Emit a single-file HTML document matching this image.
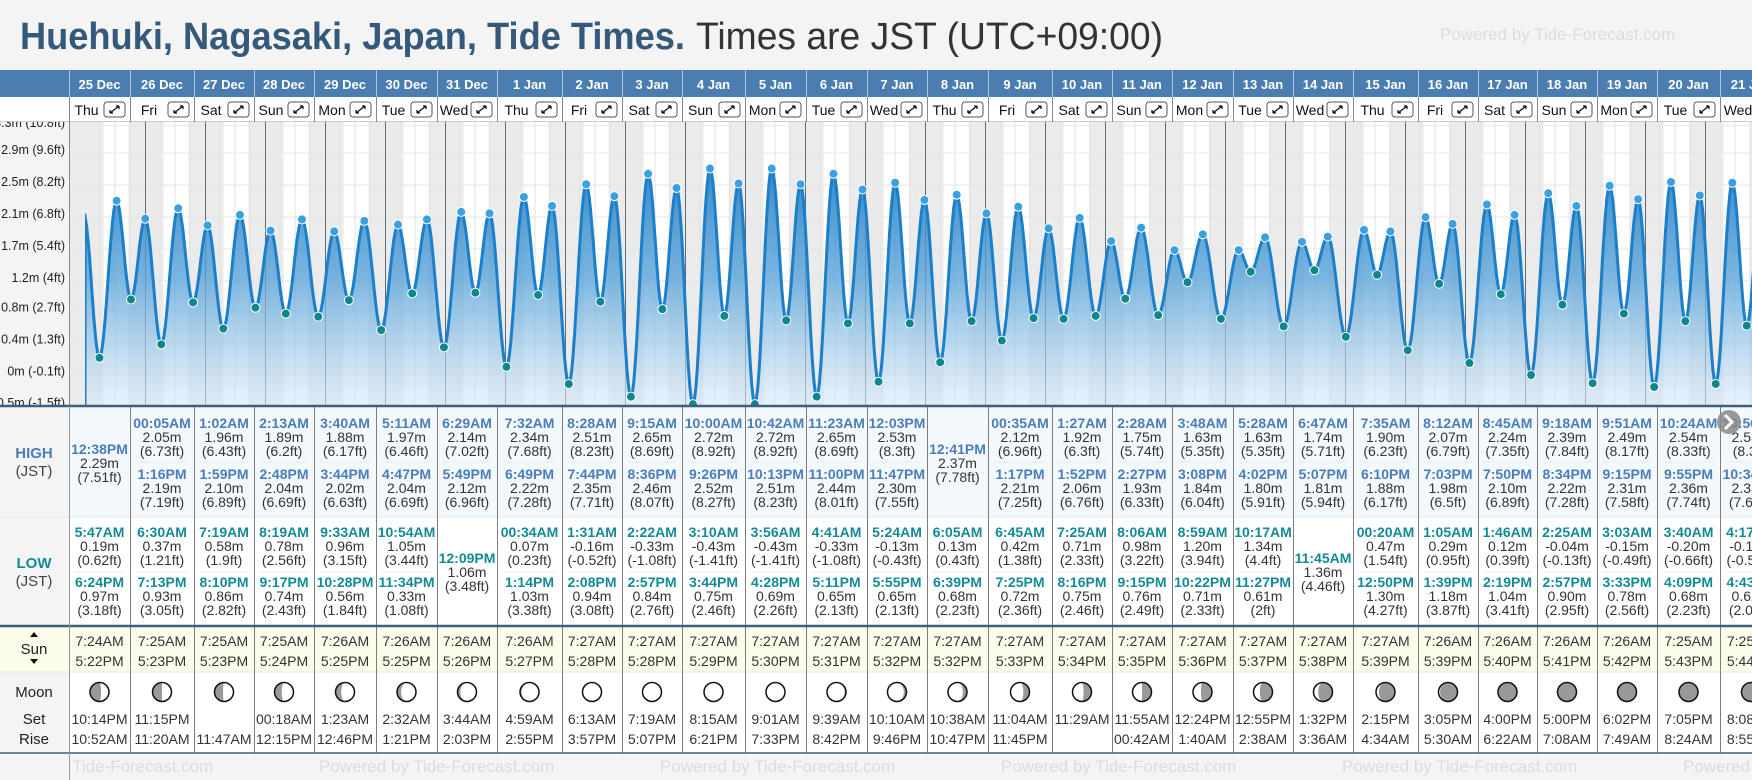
<!DOCTYPE html>
<html><head><meta charset="utf-8">
<style>
html,body{margin:0;padding:0;background:#f4f4f4;width:1752px;height:780px;overflow:hidden;font-family:"Liberation Sans",sans-serif;}
svg{display:block}
</style></head>
<body>
<svg id="s" width="1752" height="780" xmlns="http://www.w3.org/2000/svg" font-family="Liberation Sans, sans-serif">
<defs>
<linearGradient id="fillg" gradientUnits="userSpaceOnUse" x1="0" y1="150" x2="0" y2="405">
<stop offset="0" stop-color="#1f7cc4" stop-opacity="0.95"/>
<stop offset="0.5" stop-color="#5aa3d8" stop-opacity="0.8"/>
<stop offset="1" stop-color="#d8eaf8" stop-opacity="0.6"/>
</linearGradient>
<clipPath id="plotclip"><rect x="69" y="122" width="1683" height="284"/></clipPath>
<clipPath id="curveclip"><rect x="85" y="122" width="1667" height="284"/></clipPath>
<clipPath id="axisclip"><rect x="0" y="122" width="69" height="284"/></clipPath>
<clipPath id="footclip"><rect x="69" y="753" width="1683" height="27"/></clipPath>
</defs>
<rect x="0" y="0" width="1752" height="780" fill="#f4f4f4"/>
<text x="20" y="49" font-size="38" font-weight="bold" fill="#34597a" textLength="665" lengthAdjust="spacingAndGlyphs">Huehuki, Nagasaki, Japan, Tide Times.</text>
<text x="696" y="49" font-size="38" fill="#333" textLength="467" lengthAdjust="spacingAndGlyphs">Times are JST (UTC+09:00)</text>
<text x="1440" y="40" font-size="17" fill="#dcdcdc">Powered by Tide-Forecast.com</text>
<g id="root"></g>
</svg>
<script>
// ---- data ----
const dateLabels=["25 Dec","26 Dec","27 Dec","28 Dec","29 Dec","30 Dec","31 Dec","1 Jan","2 Jan","3 Jan","4 Jan","5 Jan","6 Jan","7 Jan","8 Jan","9 Jan","10 Jan","11 Jan","12 Jan","13 Jan","14 Jan","15 Jan","16 Jan","17 Jan","18 Jan","19 Jan","20 Jan","21 Jan"];
const dayNames=["Thu","Fri","Sat","Sun","Mon","Tue","Wed","Thu","Fri","Sat","Sun","Mon","Tue","Wed","Thu","Fri","Sat","Sun","Mon","Tue","Wed","Thu","Fri","Sat","Sun","Mon","Tue","Wed"];
// tide extremes: day index (0 = 25 Dec), minutes after midnight, height m, type
const tideDay=[0,0,0,0, 1,1,1,1, 2,2,2,2, 3,3,3,3, 4,4,4,4, 5,5,5,5, 6,6,6, 7,7,7,7, 8,8,8,8, 9,9,9,9, 10,10,10,10, 11,11,11,11, 12,12,12,12, 13,13,13,13, 14,14,14, 15,15,15,15, 16,16,16,16, 17,17,17,17, 18,18,18,18, 19,19,19,19, 20,20,20, 21,21,21,21, 22,22,22,22, 23,23,23,23, 24,24,24,24, 25,25,25,25, 26,26,26,26, 27,27,27,27];
const tideTime=[-30,347,758,1104, 5,390,796,1153, 62,439,839,1210, 133,499,888,1277, 220,573,944,1348, 311,654,1007,1414, 389,729,1069, 34,452,794,1129, 91,508,848,1184, 142,555,897,1236, 190,600,944,1286, 236,642,988,1333, 281,683,1031,1380, 324,723,1075,1427, 365,761,1119, 35,405,797,1165, 87,445,832,1216, 148,486,867,1275, 228,539,908,1342, 328,617,962,1407, 407,705,1027, 20,455,770,1090, 65,492,819,1143, 106,525,859,1190, 145,558,897,1234, 183,591,933,1275, 220,624,969,1315, 257,656,1003,1354];
const tideHeight=[2.10,0.19,2.29,0.97, 2.05,0.37,2.19,0.93, 1.96,0.58,2.10,0.86, 1.89,0.78,2.04,0.74, 1.88,0.96,2.02,0.56, 1.97,1.05,2.04,0.33, 2.14,1.06,2.12, 0.07,2.34,1.03,2.22, -0.16,2.51,0.94,2.35, -0.33,2.65,0.84,2.46, -0.43,2.72,0.75,2.52, -0.43,2.72,0.69,2.51, -0.33,2.65,0.65,2.44, -0.13,2.53,0.65,2.30, 0.13,2.37,0.68, 2.12,0.42,2.21,0.72, 1.92,0.71,2.06,0.75, 1.75,0.98,1.93,0.76, 1.63,1.20,1.84,0.71, 1.63,1.34,1.80,0.61, 1.74,1.36,1.81, 0.47,1.90,1.30,1.88, 0.29,2.07,1.18,1.98, 0.12,2.24,1.04,2.10, -0.04,2.39,0.90,2.22, -0.15,2.49,0.78,2.31, -0.20,2.54,0.68,2.36, -0.16,2.53,0.62,2.33];
const tideType=["H","L","H","L", "H","L","H","L", "H","L","H","L", "H","L","H","L", "H","L","H","L", "H","L","H","L", "H","L","H", "L","H","L","H", "L","H","L","H", "L","H","L","H", "L","H","L","H", "L","H","L","H", "L","H","L","H", "L","H","L","H", "L","H","L", "H","L","H","L", "H","L","H","L", "H","L","H","L", "H","L","H","L", "H","L","H","L", "H","L","H", "L","H","L","H", "L","H","L","H", "L","H","L","H", "L","H","L","H", "L","H","L","H", "L","H","L","H", "L","H","L","H"];
const sunRise=["7:24AM","7:25AM","7:25AM","7:25AM","7:26AM","7:26AM","7:26AM","7:26AM","7:27AM","7:27AM","7:27AM","7:27AM","7:27AM","7:27AM","7:27AM","7:27AM","7:27AM","7:27AM","7:27AM","7:27AM","7:27AM","7:27AM","7:26AM","7:26AM","7:26AM","7:26AM","7:25AM","7:25AM"];
const sunSet=["5:22PM","5:23PM","5:23PM","5:24PM","5:25PM","5:25PM","5:26PM","5:27PM","5:28PM","5:28PM","5:29PM","5:30PM","5:31PM","5:32PM","5:32PM","5:33PM","5:34PM","5:35PM","5:36PM","5:37PM","5:38PM","5:39PM","5:39PM","5:40PM","5:41PM","5:42PM","5:43PM","5:44PM"];
const moonSet=["10:14PM","11:15PM","","00:18AM","1:23AM","2:32AM","3:44AM","4:59AM","6:13AM","7:19AM","8:15AM","9:01AM","9:39AM","10:10AM","10:38AM","11:04AM","11:29AM","11:55AM","12:24PM","12:55PM","1:32PM","2:15PM","3:05PM","4:00PM","5:00PM","6:02PM","7:05PM","8:08PM"];
const moonRise=["10:52AM","11:20AM","11:47AM","12:15PM","12:46PM","1:21PM","2:03PM","2:55PM","3:57PM","5:07PM","6:21PM","7:33PM","8:42PM","9:46PM","10:47PM","11:45PM","","00:42AM","1:40AM","2:38AM","3:36AM","4:34AM","5:30AM","6:22AM","7:08AM","7:49AM","8:24AM","8:55AM"];
const moonLit=[0.42,0.5,0.55,0.62,0.7,0.78,0.85,0.92,0.97,1,1,0.98,0.93,0.86,0.78,0.68,0.58,0.5,0.42,0.33,0.25,0.15,0.08,0.03,0,0,0.02,0.05];
const moonWaxing=[1,1,1,1,1,1,1,1,1,1,1,0,0,0,0,0,0,0,0,0,0,0,0,0,0,0,1,1];
const tickFt=[-1.5,-0.1,1.3,2.7,4,5.4,6.8,8.2,9.6,10.8];
const tickM=["-0.5m","0m","0.4m","0.8m","1.2m","1.7m","2.1m","2.5m","2.9m","3.3m"];

// ---- layout ----
const NS="http://www.w3.org/2000/svg";
const root=document.getElementById('root');
const colB=[69,130,194,254,314,376,437,497,562,622,682,745,806,867,927,988,1052,1112,1172,1233,1293,1353,1418,1478,1537,1597,1657,1720,1782];
function X(dayFloat){return 85+60*dayFloat;}
function Y(v){return 372-74.8*v;}
function mk(tag,attrs,parent){
  const e=document.createElementNS(NS,tag);
  for(const k in attrs)e.setAttribute(k,attrs[k]);
  (parent||root).appendChild(e);
  return e;
}
function toMin(s){const m=s.match(/(\d+):(\d+)(AM|PM)/);let h=+m[1]%12;if(m[3]=="PM")h+=12;return h*60+(+m[2]);}
function fmt(min){let h=Math.floor(min/60),m=min%60;let ap=h<12?"AM":"PM";let hs=h==0?"00":String(h%12==0?12:h%12);return hs+":"+String(m).padStart(2,"0")+ap;}
function ft(v){return String(Number((v/0.3048).toFixed(2)))+"ft";}

// header
const hb=mk('rect',{x:0,y:70,width:1752,height:27,fill:'#4b7db0'});

const dr=mk('rect',{x:0,y:97,width:1752,height:25,fill:'#fff'});

mk('line',{x1:0,y1:122,x2:1752,y2:122,stroke:'#999','stroke-width':1});
for(let i=0;i<dateLabels.length;i++){
  const a=colB[i],b=colB[i+1],c=(a+b)/2;
  mk('line',{x1:a+0.5,y1:70,x2:a+0.5,y2:97,stroke:'#a9c3dd','stroke-width':1});
  mk('line',{x1:a+0.5,y1:97,x2:a+0.5,y2:122,stroke:'#888','stroke-width':1});
  const t=mk('text',{x:c,y:89,'font-size':13,'font-weight':'bold',fill:'#fff','text-anchor':'middle'});
  t.textContent=dateLabels[i];
  
  const d=mk('text',{x:(a+b-26)/2,y:115,'font-size':14,fill:'#111','text-anchor':'middle'});
  d.textContent=dayNames[i];
  
  const g=mk('g',{});
  
  mk('rect',{x:b-26,y:102,width:21,height:15,rx:3,fill:'#fff',stroke:'#555','stroke-width':1},g);
  mk('path',{d:`M${b-20} ${113} L${b-11} ${106} M${b-20} ${113} l0 -3 M${b-20} ${113} l3 0 M${b-11} ${106} l-3 0 M${b-11} ${106} l0 3`,stroke:'#111','stroke-width':1.3,fill:'none'},g);
}

// chart area
mk('rect',{x:0,y:122,width:69,height:284,fill:'#f4f4f4'});
const plot=mk('g',{'clip-path':'url(#plotclip)'});

mk('rect',{x:69,y:122,width:1683,height:284,fill:'#fff'},plot);
mk('rect',{x:69,y:122,width:16,height:284,fill:'#ebebeb'},plot);
for(let i=0;i<dateLabels.length;i++){
  const sr=toMin(sunRise[i])/1440, ss=toMin(sunSet[i])/1440;
  const n1=mk('rect',{x:X(i),y:122,width:X(i+sr)-X(i),height:284,fill:'#ebebeb'},plot);
  
  const n2=mk('rect',{x:X(i+ss),y:122,width:X(i+1)-X(i+ss),height:284,fill:'#ebebeb'},plot);
  
}
for(let i=0;i<tickFt.length;i++){
  const y=Y(tickFt[i]*0.3048);
  mk('line',{x1:69,y1:y,x2:1752,y2:y,stroke:'#e6e6e6','stroke-width':1},plot);
}
for(let i=0;i<29;i++){
  for(const q of [0.25,0.5,0.75]) mk('line',{x1:X(i+q),y1:122,x2:X(i+q),y2:406,stroke:'#e2e2e2','stroke-width':1},plot);
  if(i>0){const l=mk('line',{x1:X(i)+0.5,y1:122,x2:X(i)+0.5,y2:406,stroke:'#5d6d7c','stroke-width':1},plot);
  }
}
// curve
const ts=tideDay.map((d,i)=>d+tideTime[i]/1440);
let pts=[];
for(let i=0;i<ts.length-1;i++){
  const x0=X(ts[i]),x1=X(ts[i+1]),y0=Y(tideHeight[i]),y1=Y(tideHeight[i+1]);
  const n=Math.max(6,Math.ceil((x1-x0)/1.5));
  for(let k=0;k<(i==ts.length-2?n+1:n);k++){
    const f=k/n;const w=(1-Math.cos(Math.PI*f))/2;
    pts.push([x0+(x1-x0)*f,y0+(y1-y0)*w]);
  }
}
const cg=mk('g',{'clip-path':'url(#curveclip)'},plot);
let d="M"+pts[0][0].toFixed(1)+" 406 "+pts.map(p=>"L"+p[0].toFixed(1)+" "+p[1].toFixed(1)).join(" ")+" L"+pts[pts.length-1][0].toFixed(1)+" 406 Z";
const area=mk('path',{d:d,fill:'url(#fillg)'},cg);

const ln=mk('path',{d:"M85 406 L85 "+Y(tideHeight[0]).toFixed(1)+" "+pts.map(p=>"L"+p[0].toFixed(1)+" "+p[1].toFixed(1)).join(" "),fill:'none',stroke:'#1b7fca','stroke-width':3,'stroke-linejoin':'round'},cg);

for(let i=1;i<ts.length;i++){
  const c=mk('circle',{cx:X(ts[i]),cy:Y(tideHeight[i]),r:4.5,fill:tideType[i]=="H"?'#3aa0e2':'#0d878c',stroke:'#fff','stroke-width':1},plot);
  
  
}
// y axis
mk('line',{x1:69.5,y1:122,x2:69.5,y2:406,stroke:'#888','stroke-width':1});
const ax=mk('g',{'clip-path':'url(#axisclip)'});

for(let i=0;i<tickFt.length;i++){
  const t=mk('text',{x:65,y:Y(tickFt[i]*0.3048)+1,'font-size':12.5,fill:'#222','text-anchor':'end'},ax);
  t.textContent=tickM[i]+" ("+tickFt[i]+"ft)";
  
}

// table
mk('rect',{x:0,y:406,width:69,height:347,fill:'#f4f4f4'});
mk('rect',{x:69,y:406,width:1683,height:111,fill:'#f3f8fd'});
mk('rect',{x:69,y:517,width:1683,height:109,fill:'#fff'});
mk('rect',{x:0,y:626,width:1752,height:46,fill:'#fcfcea'});
mk('rect',{x:69,y:672,width:1683,height:81,fill:'#fff'});
mk('rect',{x:0,y:672,width:69,height:81,fill:'#f4f4f4'});
mk('line',{x1:0,y1:517,x2:1752,y2:517,stroke:'#eaeaea'});
mk('line',{x1:0,y1:672,x2:1752,y2:672,stroke:'#e6e6e6'});
function txt(x,y,s,size,fill,bold,name){
  const t=mk('text',{x:x,y:y,'font-size':size,fill:fill,'text-anchor':'middle','font-weight':bold?'bold':'normal'});
  t.textContent=s;
  
  return t;
}
txt(34,458,"HIGH",15,'#4b7db8',true,'high-row-label');txt(34,476,"(JST)",15,'#444',false,'high-row-unit');
txt(34,568,"LOW",15,'#138a96',true,'low-row-label');txt(34,586,"(JST)",15,'#444',false,'low-row-unit');
mk('path',{d:'M30 637 l4 -5 l4 5 Z M30 659 l4 5 l4 -5 Z',fill:'#111'});
txt(34,654,"Sun",15,'#222',false,'sun-row-label');
txt(34,697,"Moon",15,'#222',false,'moon-row-label');
txt(34,724,"Set",15,'#222',false,'moonset-label');
txt(34,744,"Rise",15,'#222',false,'moonrise-label');
for(let i=0;i<dateLabels.length;i++){
  const a=colB[i],b=colB[i+1],c=(a+b)/2;
  mk('line',{x1:a+0.5,y1:406,x2:a+0.5,y2:753,stroke:'#7d7d7d'});
  for(const typ of ["H","L"]){
    const ev=[];for(let j=0;j<ts.length;j++)if(tideDay[j]==i&&tideType[j]==typ&&tideTime[j]>=0)ev.push(j);
    const base=typ=="H"?[428,479]:[537,587], single=typ=="H"?454:563;
    const col=typ=="H"?'#4b7db8':'#138a96';
    ev.forEach((j,k)=>{
      const y0=ev.length==1?single:base[k];
      txt(c,y0,fmt(tideTime[j]),14,col,true,typ=="H"?'high-time':'low-time');
      txt(c,y0+14,tideHeight[j].toFixed(2)+"m",14,'#333',false,'tide-height-m');
      txt(c,y0+28,"("+ft(tideHeight[j])+")",14,'#333',false,'tide-height-ft');
    });
    if(ev.length==2){const sy=typ=="H"?462:572;mk('line',{x1:a+5,y1:sy,x2:b-5,y2:sy,stroke:typ=="H"?'#e4ecf3':'#eeeeee'});}
  }
  txt(c,646,sunRise[i],14,'#333',false,'sunrise-time');
  txt(c,666,sunSet[i],14,'#333',false,'sunset-time');
  // moon icon
  const cx=c,cy=692,r=9.5,p=moonLit[i],wax=moonWaxing[i];
  const mg=mk('g',{});
  
  mk('circle',{cx:cx,cy:cy,r:r,fill:'#fff'},mg);
  if(p<0.995){
    const rx=Math.max(0.01,r*Math.abs(1-2*p));
    let s1,s2;
    if(wax){s1=0;s2=p<0.5?0:1;}else{s1=1;s2=p<0.5?1:0;}
    mk('path',{d:`M${cx} ${cy-r} A${r} ${r} 0 0 ${s1} ${cx} ${cy+r} A${rx} ${r} 0 0 ${s2} ${cx} ${cy-r} Z`,fill:'#999'},mg);
  }
  mk('circle',{cx:cx,cy:cy,r:r,fill:'none',stroke:'#111','stroke-width':1.5},mg);
  txt(c,724,moonSet[i],14,'#333',false,'moonset-time');
  txt(c,744,moonRise[i],14,'#333',false,'moonrise-time');
}
mk('line',{x1:0,y1:406,x2:1752,y2:406,stroke:'#3d5f7e','stroke-width':2.5});
mk('line',{x1:0,y1:626,x2:1752,y2:626,stroke:'#3d5f7e','stroke-width':2.5});
mk('line',{x1:0,y1:753,x2:1752,y2:753,stroke:'#3d5f7e','stroke-width':1.5});
mk('line',{x1:69.5,y1:406,x2:69.5,y2:780,stroke:'#999'});
// next button
const nb=mk('g',{});

mk('circle',{cx:1729,cy:422,r:12,fill:'#888','fill-opacity':0.85},nb);
mk('path',{d:'M1725 415 l7 7 l-7 7',stroke:'#fff','stroke-width':3,fill:'none'},nb);
// footer watermarks
const fg=mk('g',{'clip-path':'url(#footclip)'});

for(let k=0;k<6;k++){
  const t=mk('text',{x:-22+341*k,y:772,'font-size':17,fill:'#dcdcdc'},fg);
  t.textContent="Powered by Tide-Forecast.com";
}
</script>
</body></html>
